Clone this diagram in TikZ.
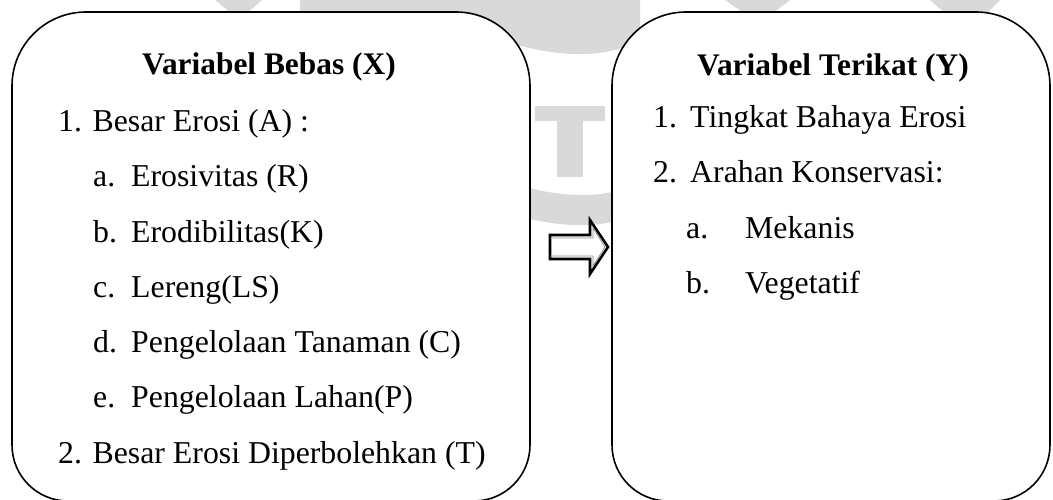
\documentclass[tikz,border=0pt]{standalone}
\usepackage{fontspec}
\setmainfont{Liberation Serif}
\begin{document}
\begin{tikzpicture}[x=1pt,y=-1pt,
  boxline/.style={draw=black,line width=1.6pt,fill=white},
  txt/.style={anchor=base west,inner sep=0pt,font=\fontsize{31.8pt}{36pt}\selectfont},
  head/.style={anchor=base west,inner sep=0pt,font=\fontsize{31.4pt}{36pt}\selectfont\bfseries},
  wm/.style={fill=black!15,draw=none}]
\useasboundingbox (0,0) rectangle (1053,500);
% watermark
\fill[wm] (215,0)--(262,0)--(246,14)--(232,14)--cycle;
\fill[wm] (300,0)--(640,0)--(640,40) .. controls (600,62) and (545,58) .. (470,30) -- (300,12) -- cycle;
\fill[wm] (535,106) rectangle (605,121);
\fill[wm] (557,121) rectangle (583,177);
\fill[wm] (530,188) .. controls (560,196) and (590,197) .. (612,192) -- (612,222) .. controls (590,227) and (560,226) .. (530,219) -- cycle;
\fill[wm] (725,0)--(790,0)--(772,14)--(745,14)--cycle;
\fill[wm] (930,0)--(1000,0)--(986,14)--(946,14)--cycle;
% boxes
\path[boxline] (12,445) -- (12,86) arc[start angle=180,end angle=270,radius=74]
  -- (456,12) arc[start angle=270,end angle=360,radius=74]
  -- (530,445) arc[start angle=0,end angle=90,radius=56]
  -- (68,501) arc[start angle=90,end angle=180,radius=56] -- cycle;
\path[boxline] (612,445) -- (612,86) arc[start angle=180,end angle=270,radius=74]
  -- (976,12) arc[start angle=270,end angle=360,radius=74]
  -- (1050,445) arc[start angle=0,end angle=90,radius=56]
  -- (668,501) arc[start angle=90,end angle=180,radius=56] -- cycle;
\coordinate (L) at (271,256);
\coordinate (R) at (831,256);
% arrow
\draw[line width=2.6pt,line join=miter,fill=white]
  (550,235) -- (590,235) -- (590,220) -- (608,247) -- (590,274) -- (590,259) -- (550,259) -- cycle;
\draw[line width=0.8pt,draw=black!45,line join=miter]
  (550,238) -- (593,238) -- (593,228) -- (605,247) -- (593,266) -- (593,256) -- (550,256);
% left texts
\node[head] (hl) at (142,75) {Variabel Bebas (X)};
\node[txt] (l1) at (58,132) {1. Besar Erosi (A) :};
\node[txt] (la) at (93,187) {a.};
\node[txt] (lat) at (131,187) {Erosivitas (R)};
\node[txt] (lb) at (93,242) {b.};
\node[txt] (lbt) at (131,242) {Erodibilitas(K)};
\node[txt] (lc) at (93,297) {c.};
\node[txt] (lct) at (131,297) {Lereng(LS)};
\node[txt] (ld) at (93,352) {d.};
\node[txt] (ldt) at (131,352) {Pengelolaan Tanaman (C)};
\node[txt] (le) at (93,407) {e.};
\node[txt] (let) at (131,407) {Pengelolaan Lahan(P)};
\node[txt] (l2) at (58,463) {2. Besar Erosi Diperbolehkan (T)};
% right texts
\node[head] (hr) at (697,76) {Variabel Terikat (Y)};
\node[txt] (r1) at (653,128) {1.};
\node[txt] (r1t) at (690,128) {Tingkat Bahaya Erosi};
\node[txt] (r2) at (653,183) {2.};
\node[txt] (r2t) at (690,183) {Arahan Konservasi:};
\node[txt] (ra) at (686,238) {a.};
\node[txt] (rat) at (745,238) {Mekanis};
\node[txt] (rb) at (686,293) {b.};
\node[txt] (rbt) at (745,293) {Vegetatif};
\end{tikzpicture}
\end{document}
